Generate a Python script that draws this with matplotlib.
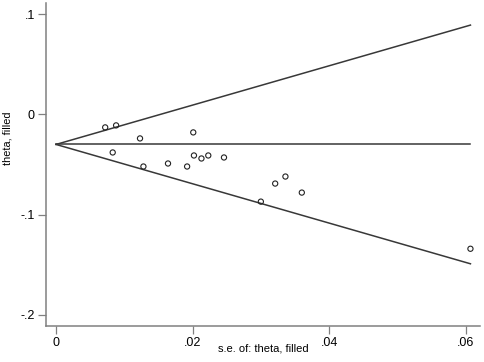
import numpy as np
import matplotlib
matplotlib.use("Agg")
import matplotlib.pyplot as plt

plt.rcParams['font.family'] = ['Liberation Sans', 'DejaVu Sans']

# study data: standard error and effect (theta, filled)
se = [0.0072, 0.0088, 0.0123, 0.0083, 0.0128, 0.0201, 0.0202, 0.0213,
      0.0223, 0.0246, 0.0164, 0.0192, 0.0321, 0.0336, 0.0360, 0.0300, 0.0607]
theta = [-0.013, -0.011, -0.024, -0.038, -0.052, -0.018, -0.041, -0.044,
         -0.041, -0.043, -0.049, -0.052, -0.069, -0.062, -0.078, -0.087, -0.134]
pooled = -0.030
xticks = [0, 0.02, 0.04, 0.06]
xticklabels = ['0', '.02', '.04', '.06']
yticks = [-0.2, -0.1, 0, 0.1]
yticklabels = ['-.2', '-.1', '0', '.1']

fig = plt.figure(figsize=(4.84, 3.62), dpi=100)
ax = fig.add_axes([46/484, 36/362, 434/484, 323/362])

line_c = '#383838'
se_max = max(se)
xs = np.array([0, se_max])
ax.plot(xs, pooled + 1.96 * xs, color=line_c, lw=1.1)
ax.plot(xs, pooled - 1.96 * xs, color=line_c, lw=1.1)
ax.plot(xs, [pooled, pooled], color=line_c, lw=1.1)
ax.scatter(se, theta, s=14, facecolors='none', edgecolors='#222222',
           linewidths=0.8, zorder=3)

ax.set_xlim(-0.00147, 0.0621)
ax.set_ylim(-0.211, 0.111)
ax.set_xticks(xticks)
ax.set_xticklabels(xticklabels)
ax.set_yticks(yticks)
ax.set_yticklabels(yticklabels)
for s in ['top', 'right']:
    ax.spines[s].set_visible(False)
for s in ['left', 'bottom']:
    ax.spines[s].set_color('#808080')
    ax.spines[s].set_linewidth(1.1)
ax.tick_params(direction='out', length=6, width=0.9, color='#808080',
               labelsize=9, pad=2)
ax.set_xlabel('s.e. of: theta, filled', fontsize=8)
ax.set_ylabel('theta, filled', fontsize=7.8)
ax.xaxis.set_label_coords(0.5, -0.053)
ax.yaxis.set_label_coords(-0.078, 0.58)

fig.savefig('out.png', dpi=100)
